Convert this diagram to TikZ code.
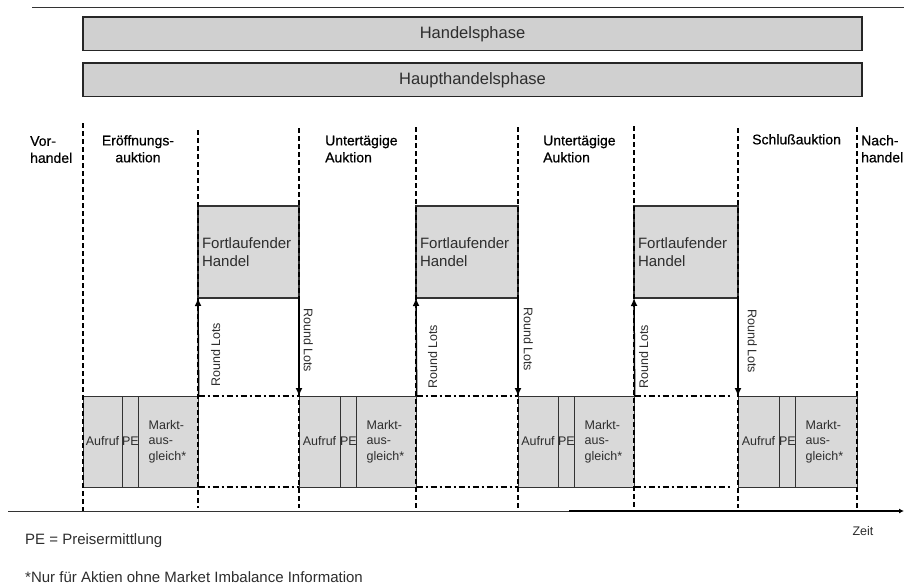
\documentclass[tikz,border=0pt]{standalone}
\usepackage{fontspec}
\setmainfont{Liberation Sans}
\newfontfamily\lblfont[FakeBold=0.6]{Liberation Sans}
\usetikzlibrary{arrows.meta,positioning}
\definecolor{phasegray}{RGB}{208,208,208}
\definecolor{boxgray}{RGB}{217,217,217}
\definecolor{txtgray}{RGB}{45,45,45}
\tikzset{
	phase/.style={draw=black!85, line width=1.5pt, fill=phasegray, minimum width=779pt, minimum height=33.5pt, inner sep=0pt, outer sep=0pt, text=txtgray, font=\fontsize{16.5}{18}\selectfont},
	handel/.style={draw=black!80, line width=1.2pt, fill=boxgray, minimum height=92pt, text width=#1, inner xsep=4pt, outer sep=0pt, align=left, text=txtgray, font=\fontsize{15}{18}\selectfont},
	cell/.style={draw=black!80, line width=0.9pt, fill=boxgray, minimum height=91pt, minimum width=#1, inner sep=0pt, outer sep=0pt, text=txtgray, font=\fontsize{12.5}{15.5}\selectfont},
	markt/.style={cell=0pt, text width=#1, inner xsep=10pt, align=left},
	phaselabel/.style={inner sep=0pt, font=\lblfont\fontsize{14}{17}\selectfont},
	phasesep/.style={line width=1.6pt, dash pattern=on 5pt off 3pt},
	dashdot/.style={line width=1.6pt, dash pattern=on 6pt off 3pt on 2pt off 3pt},
	lots/.style={-{Latex[length=8pt,width=7pt]}, line width=1.5pt},
	lotsup/.style={rotate=90, anchor=north, inner xsep=0pt, inner ysep=#1, text=txtgray, font=\fontsize{12.5}{14}\selectfont},
	lotsdown/.style={rotate=-90, anchor=south, inner xsep=0pt, inner ysep=#1, text=txtgray, font=\fontsize{12.5}{14}\selectfont},
}

\begin{document}
\begin{tikzpicture}[x=1pt,y=-1pt]
	\useasboundingbox (0,0) rectangle (904,587);
	\draw[line width=1pt, black!80] (32,7) -- (904,7);
	% phases
	\node[phase, anchor=north west] (hp) at (83,17) {Handelsphase};
	\node[phase, anchor=north west] (hhp) at (83,63) {Haupthandelsphase};
	% labels
	\node[phaselabel, anchor=north west, align=left] (vor) at (30,136) {Vor-\\handel};
	\node[phaselabel, anchor=north, align=center] (eroeff) at (138,135) {Eröffnungs-\\auktion};
	\node[phaselabel, anchor=north west, align=left] (unter1) at (325,135) {Untertägige\\Auktion};
	\node[phaselabel, anchor=north west, align=left] (unter2) at (543,135) {Untertägige\\Auktion};
	\node[phaselabel, anchor=north west] (schluss) at (752,134) {Schlußauktion};
	\node[phaselabel, anchor=north west, align=left] (nach) at (861,135) {Nach-\\handel};
	% fortlaufender handel
	\node[handel=93pt, anchor=north west] (fh1) at (198,206) {Fortlaufender\\Handel};
	\node[handel=94pt, anchor=north west] (fh2) at (416,206) {Fortlaufender\\Handel};
	\node[handel=96pt, anchor=north west] (fh3) at (634,206) {Fortlaufender\\Handel};
	% auktionen
	\node[cell=39pt, anchor=west] (a1) at (83,441.5) {Aufruf};
	\node[cell=16pt, right=0pt of a1] (pe1) {PE};
	\node[markt=40pt, right=0pt of pe1] (m1) {Markt-\\aus-\\gleich*};
	\node[cell=41pt, anchor=west] (a2) at (299,441.5) {Aufruf};
	\node[cell=16pt, right=0pt of a2] (pe2) {PE};
	\node[markt=40pt, right=0pt of pe2] (m2) {Markt-\\aus-\\gleich*};
	\node[cell=40pt, anchor=west] (a3) at (518,441.5) {Aufruf};
	\node[cell=16pt, right=0pt of a3] (pe3) {PE};
	\node[markt=40pt, right=0pt of pe3] (m3) {Markt-\\aus-\\gleich*};
	\node[cell=41pt, anchor=west] (a4) at (738,441.5) {Aufruf};
	\node[cell=16pt, right=0pt of a4] (pe4) {PE};
	\node[markt=42pt, right=0pt of pe4] (m4) {Markt-\\aus-\\gleich*};
	% phase borders
	\draw[phasesep] (83,123) -- (83,511) (198,130) -- (198,508) (299,128) -- (299,508)
		(416,127) -- (416,508) (518,127) -- (518,508) (634,126) -- (634,508)
		(738,128) -- (738,508) (857,127) -- (857,508);
	\draw[dashdot] (m1.north east) -- (a2.north west) (m1.south east) -- (a2.south west);
	\draw[dashdot] (m2.north east) -- (a3.north west) (m2.south east) -- (a3.south west);
	\draw[dashdot, shorten >=7pt] (m3.north east) -- (a4.north west);
	\draw[dashdot, shorten >=7pt] (m3.south east) -- (a4.south west);
	% round lots
	\draw[lots] (m1.north east) -- (fh1.south west) node[lotsup=12pt, pos=0.42] {Round Lots};
	\draw[lots] (fh1.south east) -- (a2.north west) node[lotsdown=4pt, pos=0.43] {Round Lots};
	\draw[lots] (m2.north east) -- (fh2.south west) node[lotsup=11pt, pos=0.40] {Round Lots};
	\draw[lots] (fh2.south east) -- (a3.north west) node[lotsdown=5pt, pos=0.42] {Round Lots};
	\draw[lots] (m3.north east) -- (fh3.south west) node[lotsup=4pt, pos=0.40] {Round Lots};
	\draw[lots] (fh3.south east) -- (a4.north west) node[lotsdown=9pt, pos=0.44] {Round Lots};
	% zeitachse
	\coordinate (t0) at (8,511);
	\coordinate (tm) at (569,511);
	\coordinate (t1) at (904,511);
	\draw[line width=0.8pt, black!80] (t0) -- (tm);
	\draw[-{Latex[length=5pt,width=5pt]}, line width=1.6pt] (tm) -- (t1);
	\node[text=txtgray, font=\fontsize{12.5}{14}\selectfont] (zeit) at (863,531) {Zeit};
	% fussnoten
	\node[anchor=west, inner sep=0pt, text=txtgray, font=\fontsize{15}{18}\selectfont] (pe) at (25,541) {PE = Preisermittlung};
	\node[anchor=west, inner sep=0pt, text=txtgray, font=\fontsize{15}{18}\selectfont] (nur) at (25,577) {*Nur für Aktien ohne Market Imbalance Information};
\end{tikzpicture}
\end{document}
